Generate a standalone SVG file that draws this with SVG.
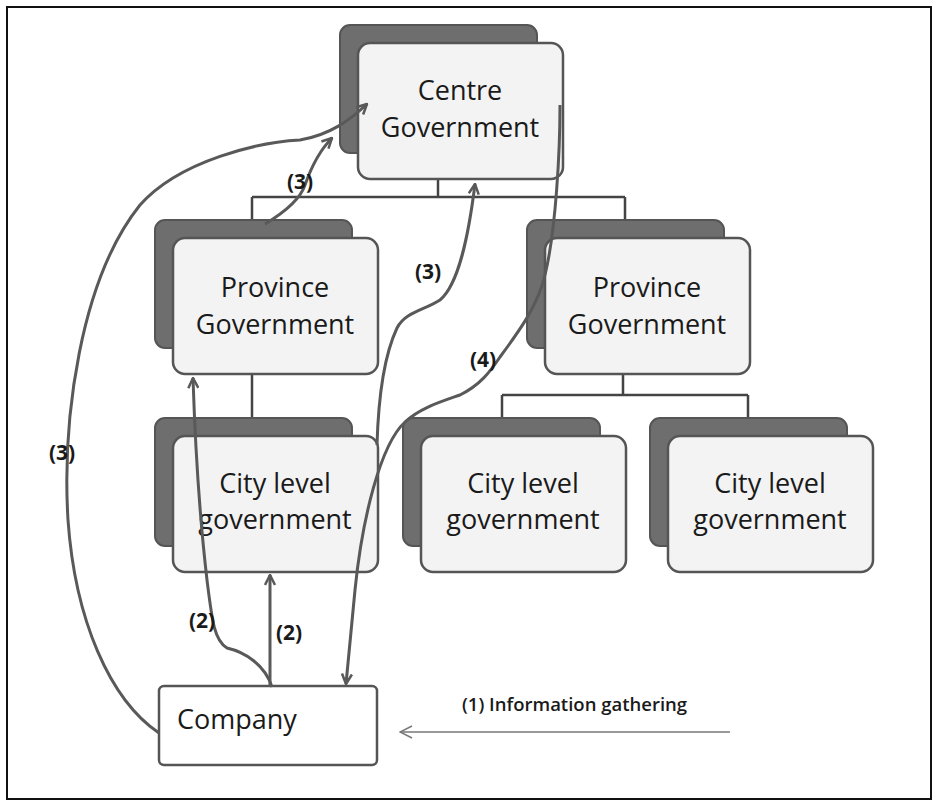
<svg xmlns="http://www.w3.org/2000/svg" width="939" height="805" viewBox="0 0 939 805">
<style>
.sh{fill:#6e6e6e;stroke:#555;stroke-width:2}
.fr{fill:#f3f3f3;stroke:#555;stroke-width:2.5}
.t{font-family:"Open Sans","Liberation Sans",sans-serif;font-size:27px;fill:#1a1a1a;text-anchor:middle}
.lb{font-family:"Open Sans","Liberation Sans",sans-serif;font-size:21px;font-weight:bold;fill:#1a1a1a;text-anchor:middle}
.tree{fill:none;stroke:#444;stroke-width:2.5}
.cv{fill:none;stroke:#595959;stroke-width:3}
</style>
<defs>
<marker id="ah" viewBox="0 0 12 12" refX="11" refY="6" markerWidth="12" markerHeight="12" markerUnits="userSpaceOnUse" orient="auto">
<path d="M1,1 L11,6 L1,11" fill="none" stroke="#595959" stroke-width="2.5"/>
</marker>
<marker id="ah2" viewBox="0 0 14 14" refX="13" refY="7" markerWidth="14" markerHeight="14" markerUnits="userSpaceOnUse" orient="auto">
<path d="M1,1 L13,7 L1,13" fill="none" stroke="#777" stroke-width="1.5"/>
</marker>
</defs>
<rect x="0" y="0" width="939" height="805" fill="#fff"/>
<rect x="7" y="7" width="924" height="792" fill="none" stroke="#111" stroke-width="2"/>

<g id="tree" class="tree">
<path d="M438 179 V197 M252 197 H625 M252 197 V220 M625 197 V220"/>
<path d="M252 374 V418"/>
<path d="M623 374 V395 M502 395 H748 M502 395 V418 M748 395 V418"/>
</g>

<g id="centre">
<rect class="sh" x="340" y="25" width="197" height="128" rx="10"/>
<rect class="fr" x="358" y="43" width="205" height="136" rx="12"/>
<text class="t" x="460" y="100">Centre</text>
<text class="t" x="460" y="137">Government</text>
</g>
<g id="provinceL">
<rect class="sh" x="155" y="220" width="197" height="128" rx="10"/>
<rect class="fr" x="173" y="238" width="205" height="136" rx="12"/>
<text class="t" x="275" y="297">Province</text>
<text class="t" x="275" y="334">Government</text>
</g>
<g id="provinceR">
<rect class="sh" x="527" y="220" width="197" height="128" rx="10"/>
<rect class="fr" x="545" y="238" width="205" height="136" rx="12"/>
<text class="t" x="647" y="297">Province</text>
<text class="t" x="647" y="334">Government</text>
</g>
<g id="cityL">
<rect class="sh" x="155" y="418" width="197" height="128" rx="10"/>
<rect class="fr" x="173" y="436" width="205" height="136" rx="12"/>
<text class="t" x="275" y="493">City level</text>
<text class="t" x="275" y="529">government</text>
</g>
<g id="cityM">
<rect class="sh" x="403" y="418" width="197" height="128" rx="10"/>
<rect class="fr" x="421" y="436" width="205" height="136" rx="12"/>
<text class="t" x="523" y="493">City level</text>
<text class="t" x="523" y="529">government</text>
</g>
<g id="cityR">
<rect class="sh" x="650" y="418" width="197" height="128" rx="10"/>
<rect class="fr" x="668" y="436" width="205" height="136" rx="12"/>
<text class="t" x="770" y="493">City level</text>
<text class="t" x="770" y="529">government</text>
</g>
<g id="company">
<rect x="159" y="686" width="218" height="79" rx="5" fill="#fff" stroke="#555" stroke-width="2.5"/>
<text class="t" x="177" y="729" style="text-anchor:start">Company</text>
</g>

<g id="connectors">
<path class="cv" d="M159 733 C110 700 75 620 68 520 C62 420 80 280 140 205 C180 160 260 142 300 140 C330 135 350 120 367 104" marker-end="url(#ah)"/>
<path class="cv" d="M265 224 C285 212 300 200 305 185 C312 165 320 150 332 138" marker-end="url(#ah)"/>
<path class="cv" d="M377 445 C378 410 382 360 397 328 C405 312 425 310 440 300 C458 285 468 240 475 184" marker-end="url(#ah)"/>
<path class="cv" d="M560 105 C560 150 556 230 545 275 C538 305 520 330 500 357 C490 372 480 385 460 395 C440 402 420 408 405 422 C380 445 362 520 355 590 L346 684" marker-end="url(#ah)"/>
<path class="cv" d="M272 687 C265 665 245 652 227 648 C214 640 212 620 207 580 C200 520 195 440 193 378" marker-end="url(#ah)"/>
<path class="cv" d="M270 687 L270 575" marker-end="url(#ah)"/>
<path d="M730 732 L400 732" fill="none" stroke="#777" stroke-width="1.5" marker-end="url(#ah2)"/>
</g>

<g id="labels">
<text class="lb" x="300" y="189">(3)</text>
<text class="lb" x="62" y="460">(3)</text>
<text class="lb" x="428" y="279">(3)</text>
<text class="lb" x="483" y="367">(4)</text>
<text class="lb" x="202" y="628">(2)</text>
<text class="lb" x="289" y="640">(2)</text>
<text x="462" y="711" style="font-family:'Open Sans','Liberation Sans',sans-serif;font-size:18.5px;font-weight:600;fill:#1a1a1a">(1) Information gathering</text>
</g>
</svg>
